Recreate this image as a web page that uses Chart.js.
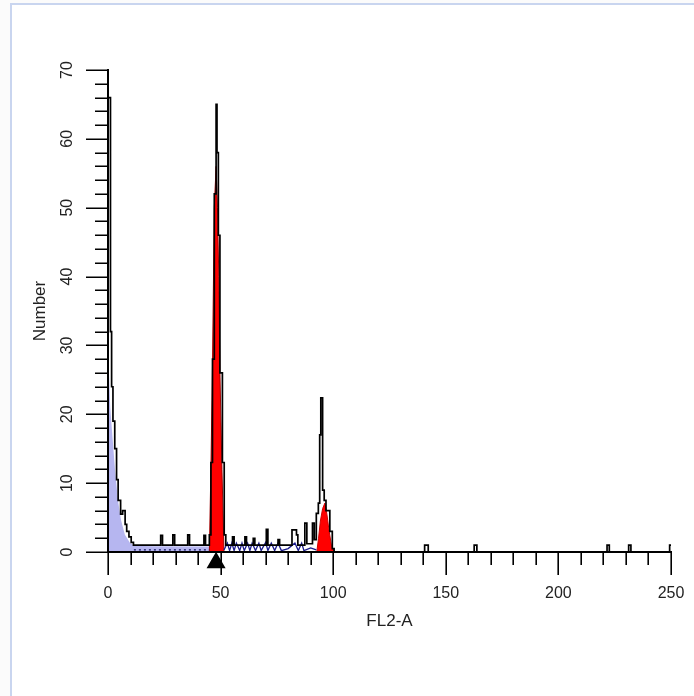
<!DOCTYPE html>
<html>
<head>
<meta charset="utf-8">
<script src="https://cdn.jsdelivr.net/npm/chart.js@4.4.1/dist/chart.umd.min.js"></script>
<style>
  html, body { margin: 0; padding: 0; background: #ffffff; }
  #wrap { position: relative; width: 694px; height: 696px; overflow: hidden; background: #fbfbfb; }
  #frame { position: absolute; left: 10px; top: 3px; right: -4px; bottom: -4px;
           border-left: 2px solid #c9d5ef; border-top: 2px solid #c9d5ef; background: #ffffff; }
  #c { position: absolute; left: 0; top: 0; }
</style>
</head>
<body>
<div id="wrap">
  <div id="frame"></div>
  <canvas id="c" width="694" height="696"></canvas>
</div>
<script>
// ---- data ----
const xTitle = 'FL2-A';
const yTitle = 'Number';
const xTickValues = [0, 50, 100, 150, 200, 250];
const yTickValues = [0, 10, 20, 30, 40, 50, 60, 70];

// measured histogram (black step outline): channel start and count held until next start
const histX = [0, 1.1, 1.6, 2.2, 3.0, 3.8, 4.5, 5.6, 6.5, 7.6, 8.3, 9.3, 10.3, 11.3,
  23.4, 24.2, 28.8, 29.6, 35.4, 36.2, 42.6, 43.3,
  45.0, 45.7, 46.4, 47.2, 48.0, 48.4, 49.0, 49.7, 50.8, 51.6, 52.3,
  55.3, 56.0, 60.8, 61.5, 64.5, 65.2, 70.3, 71.0, 75.5, 76.2,
  81.7, 83.7, 84.3, 87.4, 88.3, 90.8, 91.6, 92.5, 93.4, 94.0, 94.5, 95.3, 96.0, 96.8, 98.5, 99.6, 100.4,
  140.6, 142.2, 162.6, 163.8, 221.6, 222.6, 231.2, 232.2, 249.4, 250];
const histY = [66, 32, 24, 19, 15, 10.5, 7.5, 5.5, 6, 4, 3, 2.2, 1.4, 1,
  2.4, 1, 2.5, 1, 2.5, 1, 2.4, 1,
  2.5, 13, 28, 52, 65, 58, 46, 26, 13, 2.5, 1,
  2.2, 1, 2.2, 1, 2, 1, 3.3, 1, 1.8, 1,
  3.2, 2.5, 1, 4.2, 1.2, 4.2, 1.8, 5.6, 7.1, 17, 22.4, 9, 7.5, 6, 3, 0.5, 0,
  1, 0, 1, 0, 1, 0, 1, 0, 1, 1];

// debris model (lavender fill)
const debrisX = [0, 1.0, 1.8, 3.1, 4.4, 5.8, 7.5, 9.8, 12, 20, 46, 46.3];
const debrisY = [30, 21, 17.5, 12, 7.5, 4.6, 2.5, 1.3, 0.9, 0.85, 0.8, 0];

// G0/G1 peak model (red fill)
const g1X = [45.0, 45.7, 46.4, 47.2, 48.0, 48.6, 49.2, 49.7, 50.6, 51.5];
const g1Y = [0, 12, 27, 50, 56, 50, 40, 26, 12, 0];

// G2/M peak model (red fill)
const g2X = [92.7, 93.5, 94.3, 95.3, 96.3, 97.2, 98.2, 99.2, 100.6];
const g2Y = [0, 2, 4.5, 6.3, 7.1, 5.5, 3, 1, 0];

// S-phase / background model (dark blue thin lines)
const baseFitX = [11.5, 45];
const baseFitY = [0.3, 0.3];
const sPhaseX = [51.5, 53, 54, 55, 56, 57, 58.5, 59.5, 60.5, 62, 63, 64, 65.5, 67, 68, 70, 71, 72.5, 74, 75.5, 77, 80, 83, 84.5, 86, 87, 90, 92.5];
const sPhaseY = [0.3, 1.3, 0.2, 1.3, 0.2, 1.3, 0.2, 1.3, 0.2, 1.3, 0.2, 1.3, 0.2, 1.3, 0.2, 1.4, 0.2, 1.3, 0.2, 1.3, 0.2, 0.5, 1.3, 0.2, 1.3, 0.2, 0.6, 0.3];

// gate marker (black triangle under the x axis)
const markerX = [48];
const markerY = [-1.55];

const pts = (xs, ys) => xs.map((x, i) => ({ x: x, y: ys[i] }));

// ---- axis lines and ticks (major + minor) drawn through the scales ----
const axisPlugin = {
  id: 'axisTicks',
  afterDraw(chart) {
    const ctx = chart.ctx;
    const xs = chart.scales.x, ys = chart.scales.y;
    const x0 = xs.getPixelForValue(0), x1 = xs.getPixelForValue(250);
    const y0 = ys.getPixelForValue(0), y1 = ys.getPixelForValue(70);
    ctx.save();
    ctx.strokeStyle = '#000';
    ctx.lineWidth = 2;
    ctx.beginPath();
    ctx.moveTo(x0, y1 - 1); ctx.lineTo(x0, y0);
    ctx.moveTo(x0 - 1, y0); ctx.lineTo(x1 + 1, y0);
    ctx.stroke();
    ctx.lineWidth = 1.6;
    ctx.beginPath();
    for (let v = 0; v <= 250; v += 10) {
      const p = Math.round(xs.getPixelForValue(v)) + 0.2;
      const len = (v % 50 === 0) ? 23 : 13;
      ctx.moveTo(p, y0); ctx.lineTo(p, y0 + len);
    }
    for (let v = 0; v <= 70; v += 2) {
      const p = Math.round(ys.getPixelForValue(v)) + 0.2;
      const len = (v % 10 === 0) ? 22 : 13;
      ctx.moveTo(x0, p); ctx.lineTo(x0 - len, p);
    }
    ctx.stroke();
    ctx.restore();
  }
};

const font = 'Liberation Sans, Arial, sans-serif';

new Chart(document.getElementById('c'), {
  type: 'line',
  data: {
    datasets: [
      { label: 'data', data: pts(histX, histY), stepped: 'before', borderColor: '#000', borderWidth: 1.7,
        fill: false, pointRadius: 0, order: 0 },
      { label: 'marker', type: 'scatter', data: pts(markerX, markerY), pointStyle: 'triangle', pointRadius: 8,
        backgroundColor: '#000', borderColor: '#000', borderWidth: 3, clip: false, order: 0 },
      { label: 'base', data: pts(baseFitX, baseFitY), borderColor: '#10105a', borderWidth: 1.2, borderDash: [2, 3],
        fill: false, pointRadius: 0, order: 1 },
      { label: 'S', data: pts(sPhaseX, sPhaseY), borderColor: '#1a1a8c', borderWidth: 1.3,
        fill: false, pointRadius: 0, order: 1 },
      { label: 'G1', data: pts(g1X, g1Y), borderColor: '#a00000', borderWidth: 1, backgroundColor: '#ff0000',
        fill: 'origin', pointRadius: 0, order: 2 },
      { label: 'G2', data: pts(g2X, g2Y), borderColor: '#d00000', borderWidth: 1, backgroundColor: '#ff0000',
        fill: 'origin', pointRadius: 0, order: 2 },
      { label: 'debris', data: pts(debrisX, debrisY), borderColor: 'rgba(0,0,0,0)', borderWidth: 0,
        backgroundColor: 'rgb(182,182,240)', fill: 'origin', pointRadius: 0, order: 3 }
    ]
  },
  options: {
    responsive: false,
    animation: false,
    events: [],
    layout: { padding: { left: 0, right: 23, top: 70, bottom: 0 } },
    plugins: { legend: { display: false }, tooltip: { enabled: false } },
    scales: {
      x: {
        type: 'linear', min: 0, max: 250,
        afterFit(s) { s.height = 144; s.paddingLeft = 0; s.paddingRight = 0; },
        afterBuildTicks(s) { s.ticks = xTickValues.map(v => ({ value: v })); },
        grid: { display: false, drawTicks: false },
        border: { display: false },
        ticks: { color: '#222', font: { family: font, size: 16 }, padding: 32, autoSkip: false, maxRotation: 0 },
        title: { display: true, text: xTitle, color: '#222', font: { family: font, size: 17 }, padding: { top: 0, bottom: 64 } }
      },
      y: {
        type: 'linear', min: 0, max: 70,
        afterFit(s) { s.width = 108; s.paddingTop = 0; s.paddingBottom = 0; },
        afterBuildTicks(s) { s.ticks = yTickValues.map(v => ({ value: v })); },
        grid: { display: false, drawTicks: false },
        border: { display: false },
        ticks: { color: '#222', font: { family: font, size: 16 }, padding: 32, autoSkip: false,
                 minRotation: 90, maxRotation: 90, crossAlign: 'center' },
        title: { display: true, text: yTitle, color: '#222', font: { family: font, size: 17 }, padding: { top: 30, bottom: 0 } }
      }
    }
  },
  plugins: [axisPlugin]
});
</script>
</body>
</html>
